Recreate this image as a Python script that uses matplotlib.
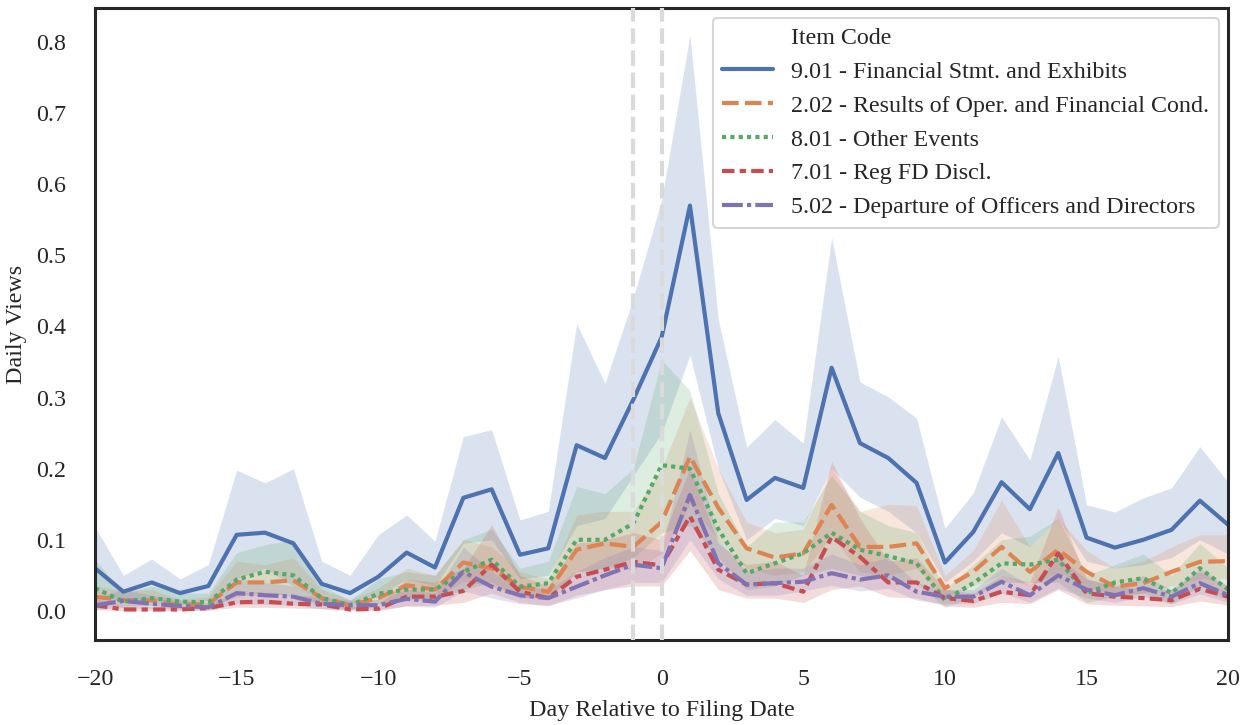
import matplotlib
matplotlib.use("Agg")
import matplotlib.pyplot as plt
from matplotlib.lines import Line2D
import seaborn as sns
import numpy as np

sns.set_theme(style="white", context="talk")
plt.rcParams['font.family'] = ['Liberation Serif', 'DejaVu Serif']
plt.rcParams['xtick.labelsize'] = 17.3
plt.rcParams['ytick.labelsize'] = 17.3
plt.rcParams['axes.labelsize'] = 17.3

# Day relative to filing date
days = list(range(-20, 21))

item_labels = [
    "9.01 - Financial Stmt. and Exhibits",
    "2.02 - Results of Oper. and Financial Cond.",
    "8.01 - Other Events",
    "7.01 - Reg FD Discl.",
    "5.02 - Departure of Officers and Directors",
]

# 9.01 - mean daily views and confidence band
views_901 = [0.060, 0.027, 0.040, 0.025, 0.035, 0.107, 0.110, 0.095, 0.038, 0.025,
             0.048, 0.082, 0.061, 0.159, 0.171, 0.079, 0.088, 0.233, 0.215, 0.297,
             0.385, 0.570, 0.278, 0.156, 0.187, 0.173, 0.342, 0.236, 0.215, 0.180,
             0.068, 0.111, 0.181, 0.143, 0.222, 0.103, 0.089, 0.100, 0.114, 0.155,
             0.121]
upper_901 = [0.118, 0.050, 0.073, 0.045, 0.065, 0.198, 0.180, 0.200, 0.070, 0.050,
             0.107, 0.135, 0.098, 0.245, 0.255, 0.128, 0.140, 0.404, 0.320, 0.440,
             0.578, 0.810, 0.410, 0.230, 0.269, 0.236, 0.525, 0.322, 0.301, 0.271,
             0.116, 0.166, 0.273, 0.212, 0.358, 0.149, 0.139, 0.159, 0.173, 0.231,
             0.181]
lower_901 = [0.025, 0.012, 0.018, 0.010, 0.015, 0.045, 0.060, 0.035, 0.018, 0.010,
             0.020, 0.045, 0.035, 0.095, 0.100, 0.045, 0.050, 0.120, 0.130, 0.190,
             0.250, 0.360, 0.200, 0.100, 0.130, 0.120, 0.200, 0.160, 0.140, 0.110,
             0.040, 0.070, 0.110, 0.090, 0.130, 0.070, 0.060, 0.065, 0.075, 0.100,
             0.080]

# 2.02
views_202 = [0.020, 0.015, 0.015, 0.008, 0.010, 0.040, 0.040, 0.043, 0.018, 0.008,
             0.018, 0.036, 0.030, 0.068, 0.060, 0.034, 0.027, 0.086, 0.095, 0.090,
             0.125, 0.217, 0.145, 0.088, 0.075, 0.081, 0.149, 0.090, 0.090, 0.095,
             0.032, 0.055, 0.090, 0.055, 0.086, 0.055, 0.034, 0.039, 0.055, 0.069,
             0.070]
upper_202 = [0.035, 0.028, 0.030, 0.016, 0.020, 0.070, 0.065, 0.075, 0.030, 0.016,
             0.032, 0.060, 0.050, 0.100, 0.090, 0.055, 0.045, 0.135, 0.140, 0.140,
             0.200, 0.300, 0.200, 0.125, 0.110, 0.115, 0.200, 0.140, 0.150, 0.148,
             0.050, 0.085, 0.156, 0.090, 0.130, 0.085, 0.060, 0.070, 0.090, 0.107,
             0.107]
lower_202 = [0.010, 0.007, 0.007, 0.003, 0.004, 0.022, 0.022, 0.024, 0.009, 0.003,
             0.009, 0.020, 0.017, 0.042, 0.035, 0.020, 0.015, 0.055, 0.060, 0.058,
             0.080, 0.150, 0.100, 0.060, 0.050, 0.055, 0.105, 0.055, 0.050, 0.060,
             0.020, 0.035, 0.050, 0.035, 0.055, 0.035, 0.020, 0.025, 0.035, 0.045,
             0.045]

# 8.01
views_801 = [0.032, 0.013, 0.018, 0.013, 0.012, 0.044, 0.055, 0.050, 0.018, 0.008,
             0.024, 0.030, 0.030, 0.055, 0.072, 0.034, 0.039, 0.100, 0.100, 0.123,
             0.205, 0.200, 0.115, 0.053, 0.067, 0.081, 0.110, 0.086, 0.077, 0.067,
             0.015, 0.039, 0.067, 0.065, 0.072, 0.025, 0.040, 0.046, 0.025, 0.060,
             0.030]
upper_801 = [0.072, 0.025, 0.035, 0.025, 0.025, 0.082, 0.093, 0.100, 0.035, 0.015,
             0.045, 0.055, 0.050, 0.100, 0.115, 0.060, 0.070, 0.175, 0.165, 0.200,
             0.353, 0.310, 0.165, 0.090, 0.125, 0.125, 0.190, 0.140, 0.120, 0.110,
             0.030, 0.065, 0.100, 0.105, 0.130, 0.050, 0.065, 0.080, 0.050, 0.095,
             0.060]
lower_801 = [0.015, 0.005, 0.008, 0.005, 0.005, 0.020, 0.028, 0.020, 0.008, 0.002,
             0.010, 0.015, 0.015, 0.030, 0.040, 0.018, 0.020, 0.055, 0.060, 0.075,
             0.110, 0.120, 0.075, 0.030, 0.035, 0.050, 0.060, 0.050, 0.045, 0.040,
             0.005, 0.020, 0.040, 0.040, 0.040, 0.012, 0.020, 0.025, 0.010, 0.035,
             0.015]

# 7.01
views_701 = [0.008, 0.002, 0.002, 0.002, 0.004, 0.012, 0.013, 0.010, 0.009, 0.002,
             0.003, 0.020, 0.020, 0.028, 0.065, 0.027, 0.018, 0.048, 0.058, 0.069,
             0.064, 0.133, 0.058, 0.037, 0.039, 0.027, 0.104, 0.076, 0.040, 0.040,
             0.018, 0.014, 0.027, 0.022, 0.081, 0.025, 0.020, 0.018, 0.015, 0.031,
             0.020]
upper_701 = [0.018, 0.006, 0.006, 0.006, 0.010, 0.025, 0.028, 0.022, 0.020, 0.006,
             0.008, 0.045, 0.040, 0.060, 0.121, 0.050, 0.035, 0.095, 0.100, 0.110,
             0.100, 0.200, 0.095, 0.065, 0.070, 0.050, 0.210, 0.130, 0.070, 0.075,
             0.030, 0.025, 0.050, 0.040, 0.146, 0.045, 0.035, 0.030, 0.030, 0.055,
             0.035]
lower_701 = [0.002, 0.000, 0.000, 0.000, 0.001, 0.005, 0.005, 0.004, 0.003, 0.000,
             0.000, 0.007, 0.008, 0.012, 0.025, 0.012, 0.007, 0.022, 0.030, 0.035,
             0.035, 0.085, 0.030, 0.018, 0.018, 0.012, 0.030, 0.035, 0.020, 0.018,
             0.007, 0.005, 0.012, 0.010, 0.030, 0.010, 0.008, 0.007, 0.006, 0.014,
             0.008]

# 5.02
views_502 = [0.008, 0.014, 0.010, 0.007, 0.005, 0.025, 0.022, 0.020, 0.010, 0.008,
             0.008, 0.017, 0.013, 0.055, 0.034, 0.022, 0.018, 0.034, 0.050, 0.065,
             0.060, 0.163, 0.067, 0.037, 0.039, 0.041, 0.053, 0.044, 0.050, 0.027,
             0.020, 0.020, 0.041, 0.022, 0.050, 0.030, 0.022, 0.032, 0.020, 0.039,
             0.022]
upper_502 = [0.018, 0.030, 0.022, 0.015, 0.012, 0.045, 0.040, 0.035, 0.020, 0.015,
             0.016, 0.030, 0.025, 0.090, 0.055, 0.035, 0.030, 0.055, 0.075, 0.090,
             0.085, 0.255, 0.100, 0.055, 0.060, 0.060, 0.080, 0.065, 0.075, 0.040,
             0.030, 0.030, 0.060, 0.035, 0.075, 0.045, 0.035, 0.050, 0.030, 0.060,
             0.035]
lower_502 = [0.002, 0.005, 0.003, 0.002, 0.001, 0.010, 0.009, 0.008, 0.003, 0.002,
             0.002, 0.007, 0.005, 0.028, 0.018, 0.010, 0.008, 0.018, 0.030, 0.040,
             0.040, 0.100, 0.045, 0.022, 0.022, 0.028, 0.036, 0.028, 0.032, 0.015,
             0.010, 0.010, 0.025, 0.012, 0.032, 0.018, 0.012, 0.020, 0.010, 0.024,
             0.012]

means = [views_901, views_202, views_801, views_701, views_502]
uppers = [upper_901, upper_202, upper_801, upper_701, upper_502]
lowers = [lower_901, lower_202, lower_801, lower_701, lower_502]

colors = sns.color_palette("deep", 5)
# seaborn default style dashes
dash_styles = [(None, None), (4, 1.5), (1, 1), (3, 1.25, 1.5, 1.25), (5, 1, 1, 1)]

fig = plt.figure(figsize=(12.52, 7.25), dpi=100)
ax = fig.add_axes([0.0759, 0.1172, 0.9051, 0.8718])

handles = []
for i in range(5):
    ax.fill_between(days, lowers[i], uppers[i], color=colors[i], alpha=0.2, linewidth=0)
for i in range(5):
    line, = ax.plot(days, means[i], color=colors[i], lw=3.0)
    if i > 0:
        line.set_dashes(dash_styles[i])
    handles.append(line)

ax.axvline(-1, color='#dadada', ls='--', lw=3.0, zorder=3)
ax.axvline(0, color='#dadada', ls='--', lw=3.0, zorder=3)

ax.set_xlim(-20, 20)
ax.set_ylim(-0.041, 0.848)
ax.set_yticks(np.arange(0, 0.81, 0.1))
ax.tick_params(axis='both', pad=12)
ax.set_xlabel("Day Relative to Filing Date", labelpad=7)
ax.set_ylabel("Daily Views", labelpad=6)

for s in ax.spines.values():
    s.set_color('#262626')
    s.set_linewidth(2.2)

title_handle = Line2D([], [], color='none')
ax.legend([title_handle] + handles, ["Item Code"] + item_labels,
          loc='upper right', fontsize=17.3, handlelength=2.1,
          handletextpad=0.75, borderaxespad=0.4)

fig.savefig("out.png", dpi=100)
